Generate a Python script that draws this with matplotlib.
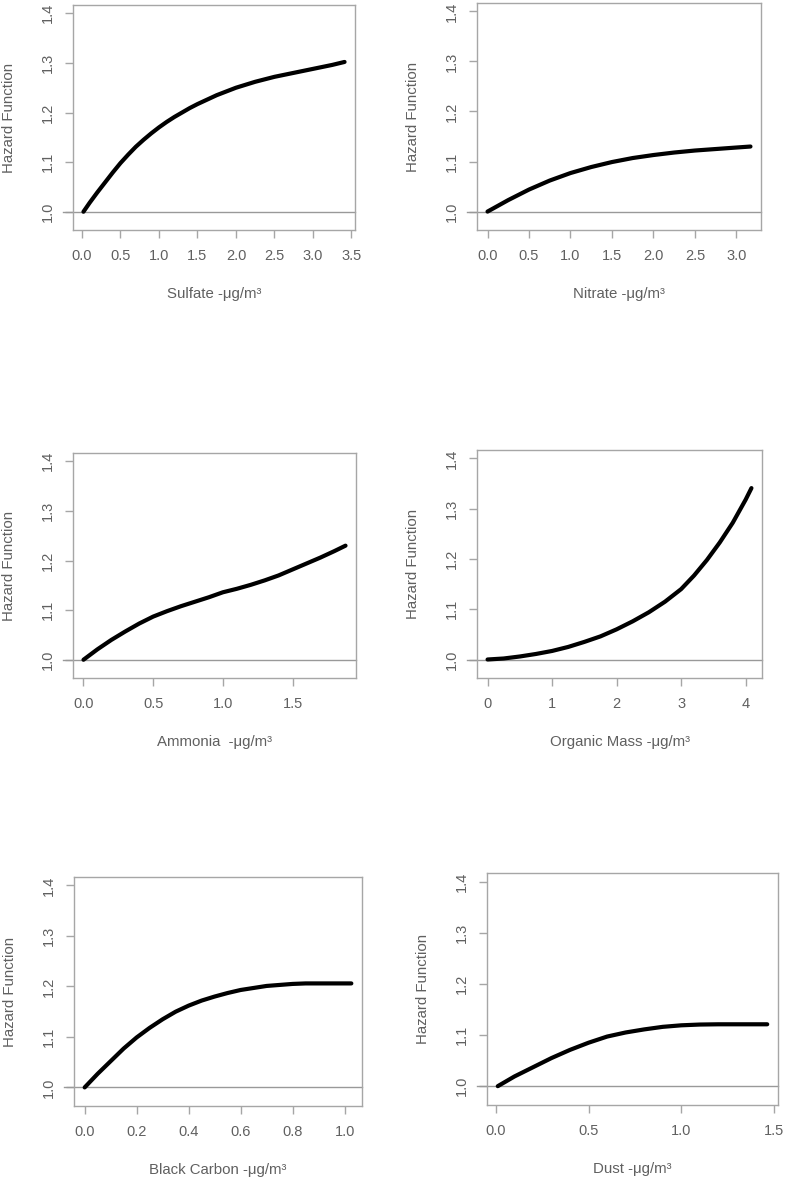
import matplotlib
matplotlib.use("Agg")
import matplotlib.pyplot as plt
import matplotlib.transforms as mtransforms

plt.rcParams['font.family'] = ['Liberation Sans', 'DejaVu Sans']

# ---------------- data ----------------
sulfate_x = [0.02, 0.1, 0.2, 0.3, 0.4, 0.5, 0.6, 0.7, 0.8, 0.9, 1.0, 1.1, 1.2, 1.3, 1.4, 1.5,
             1.75, 2.0, 2.25, 2.5, 2.75, 3.0, 3.25, 3.41]
sulfate_y = [1.000, 1.018, 1.039, 1.059, 1.079, 1.098, 1.115, 1.131, 1.145, 1.158, 1.170, 1.181,
             1.191, 1.200, 1.209, 1.217, 1.235, 1.250, 1.262, 1.272, 1.280, 1.288, 1.296, 1.302]

nitrate_x = [0.0, 0.25, 0.5, 0.75, 1.0, 1.25, 1.5, 1.75, 2.0, 2.25, 2.5, 2.75, 3.0, 3.17]
nitrate_y = [1.000, 1.023, 1.044, 1.062, 1.077, 1.089, 1.099, 1.107, 1.113, 1.118, 1.122, 1.125, 1.128, 1.130]

ammonia_x = [0.0, 0.1, 0.2, 0.3, 0.4, 0.5, 0.6, 0.7, 0.8, 0.9, 1.0, 1.1, 1.2, 1.3, 1.4, 1.5, 1.6, 1.7, 1.8, 1.88]
ammonia_y = [1.000, 1.021, 1.040, 1.057, 1.073, 1.087, 1.098, 1.108, 1.117, 1.126, 1.136, 1.143, 1.151,
             1.160, 1.170, 1.182, 1.194, 1.206, 1.219, 1.230]

organic_x = [0.0, 0.25, 0.5, 0.75, 1.0, 1.25, 1.5, 1.75, 2.0, 2.25, 2.5, 2.75, 3.0, 3.2, 3.4, 3.6, 3.8, 4.0, 4.09]
organic_y = [1.000, 1.002, 1.006, 1.011, 1.017, 1.025, 1.035, 1.046, 1.060, 1.076, 1.094, 1.115, 1.140,
             1.167, 1.198, 1.233, 1.272, 1.318, 1.341]

bc_x = [0.0, 0.05, 0.1, 0.15, 0.2, 0.25, 0.3, 0.35, 0.4, 0.45, 0.5, 0.55, 0.6, 0.65, 0.7, 0.75, 0.8,
        0.85, 0.9, 1.026]
bc_y = [1.000, 1.027, 1.052, 1.077, 1.099, 1.118, 1.135, 1.150, 1.162, 1.172, 1.180, 1.187, 1.193,
        1.197, 1.201, 1.203, 1.205, 1.206, 1.206, 1.206]

dust_x = [0.01, 0.1, 0.2, 0.3, 0.4, 0.5, 0.6, 0.7, 0.8, 0.9, 1.0, 1.1, 1.2, 1.464]
dust_y = [1.000, 1.019, 1.037, 1.055, 1.071, 1.085, 1.097, 1.105, 1.111, 1.116, 1.119, 1.1205, 1.121, 1.121]

x_labels = ["Sulfate -\u03bcg/m\u00b3", "Nitrate -\u03bcg/m\u00b3", "Ammonia  -\u03bcg/m\u00b3",
            "Organic Mass -\u03bcg/m\u00b3", "Black Carbon -\u03bcg/m\u00b3", "Dust -\u03bcg/m\u00b3"]
y_label = "Hazard Function"

x_ticks = [[0.0, 0.5, 1.0, 1.5, 2.0, 2.5, 3.0, 3.5],
           [0.0, 0.5, 1.0, 1.5, 2.0, 2.5, 3.0],
           [0.0, 0.5, 1.0, 1.5],
           [0, 1, 2, 3, 4],
           [0.0, 0.2, 0.4, 0.6, 0.8, 1.0],
           [0.0, 0.5, 1.0, 1.5]]
x_tick_labels = [["0.0", "0.5", "1.0", "1.5", "2.0", "2.5", "3.0", "3.5"],
                 ["0.0", "0.5", "1.0", "1.5", "2.0", "2.5", "3.0"],
                 ["0.0", "0.5", "1.0", "1.5"],
                 ["0", "1", "2", "3", "4"],
                 ["0.0", "0.2", "0.4", "0.6", "0.8", "1.0"],
                 ["0.0", "0.5", "1.0", "1.5"]]
y_ticks = [1.0, 1.1, 1.2, 1.3, 1.4]
y_tick_labels = ["1.0", "1.1", "1.2", "1.3", "1.4"]
y_ref = 1.0

series = [(sulfate_x, sulfate_y), (nitrate_x, nitrate_y), (ammonia_x, ammonia_y),
          (organic_x, organic_y), (bc_x, bc_y), (dust_x, dust_y)]

# ---------------- layout (pixel boxes: left, top, right, bottom) ----------------
W, H = 787, 1182
boxes = [(73, 5, 355, 230), (477, 3, 761, 230),
         (73, 453, 356, 678), (477, 450, 762, 678),
         (74, 877, 362, 1106), (487, 873, 778, 1105)]

frame_col = "#a6a6a6"
text_col = "#606060"
ref_col = "#999999"

fig = plt.figure(figsize=(W / 100, H / 100), dpi=100)

for i, (box, (xs, ys)) in enumerate(zip(boxes, series)):
    l, t, r, b = box
    ax = fig.add_axes([l / W, 1 - b / H, (r - l) / W, (b - t) / H])
    ax.plot(xs, ys, color="black", lw=3.0, solid_capstyle="round",
            solid_joinstyle="round", zorder=3)
    rng = max(xs) - min(xs)
    ax.set_xlim(min(xs) - 0.04 * rng, max(xs) + 0.04 * rng)
    ax.set_ylim(0.98 - 0.0168, 1.4 + 0.0168)
    # reference line at 1.0, slightly extending left of the frame
    trans = mtransforms.blended_transform_factory(ax.transAxes, ax.transData)
    ax.plot([-10 / (r - l), 1.0], [y_ref, y_ref], color=ref_col, lw=1.0,
            transform=trans, clip_on=False, zorder=2)
    ax.set_xticks(x_ticks[i])
    ax.set_xticklabels(x_tick_labels[i])
    ax.set_yticks(y_ticks)
    ax.set_yticklabels(y_tick_labels, rotation=90, va="center")
    for sp in ax.spines.values():
        sp.set_color(frame_col)
        sp.set_linewidth(1.0)
    ax.tick_params(axis="both", direction="out", length=6, width=1.0,
                   color=frame_col, labelcolor=text_col, labelsize=10.5)
    ax.tick_params(axis="x", pad=8)
    ax.tick_params(axis="y", pad=7)
    # axis titles
    cx = (l + r) / 2
    fig.text(cx / W, 1 - (b + 64) / H, x_labels[i], ha="center", va="center",
             color=text_col, fontsize=10.8)
    fig.text((l - 64) / W, 1 - ((t + b) / 2) / H, y_label, ha="center", va="center",
             rotation=90, color=text_col, fontsize=10.8)

fig.savefig("out.png", dpi=100, facecolor="white")
